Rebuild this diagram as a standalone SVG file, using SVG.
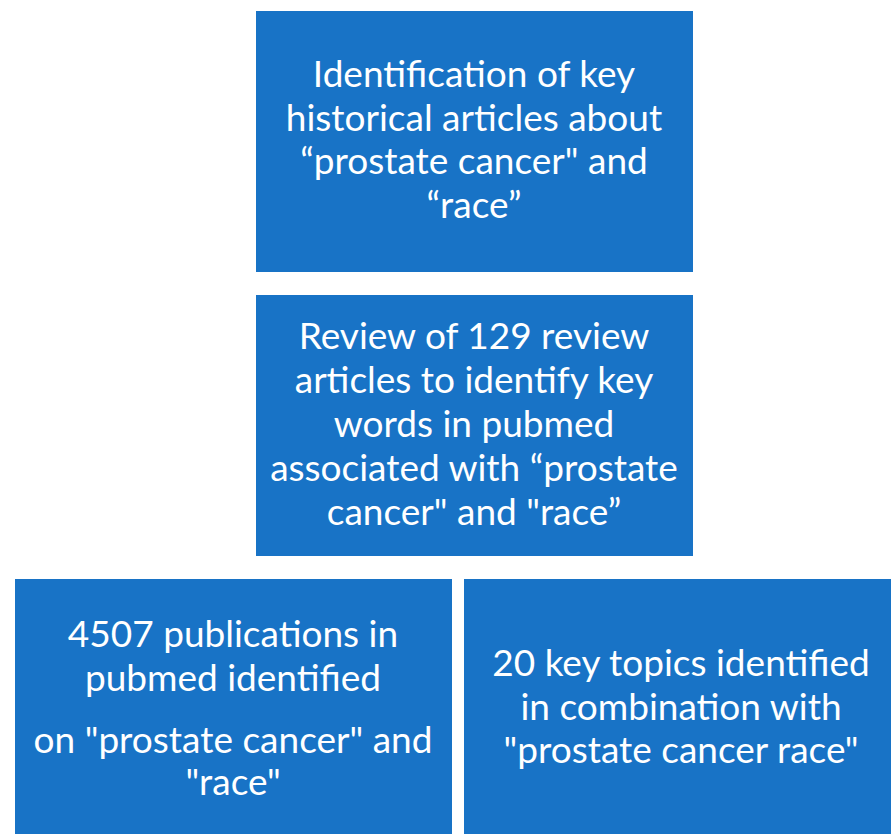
<svg xmlns="http://www.w3.org/2000/svg" width="891" height="834" viewBox="0 0 891 834">
<style>
.box{fill:#1873C6;}
.t{fill:#ffffff;font-family:Lato,"Open Sans","Liberation Sans",sans-serif;font-size:37px;text-anchor:middle;}
</style>
<rect width="891" height="834" fill="#ffffff"/>
<g id="connectors"></g>
<g id="n1">
<rect class="box" x="256" y="11" width="437" height="261"/>
<text class="t" x="474" y="87">Identification of key</text>
<text class="t" x="474" y="131">historical articles about</text>
<text class="t" x="474" y="174">“prostate cancer" and</text>
<text class="t" x="474" y="218">“race”</text>
</g>
<g id="n2">
<rect class="box" x="256" y="295" width="437" height="261"/>
<text class="t" x="474" y="349">Review of 129 review</text>
<text class="t" x="474" y="393">articles to identify key</text>
<text class="t" x="474" y="437">words in pubmed</text>
<text class="t" x="474" y="481">associated with “prostate</text>
<text class="t" x="474" y="525">cancer" and "race”</text>
</g>
<g id="n3">
<rect class="box" x="15" y="579" width="437" height="255"/>
<text class="t" x="233" y="647">4507 publications in</text>
<text class="t" x="233" y="691">pubmed identified</text>
<text class="t" x="233" y="753">on "prostate cancer" and</text>
<text class="t" x="233" y="795">"race"</text>
</g>
<g id="n4">
<rect class="box" x="464" y="579" width="427" height="255"/>
<text class="t" x="681" y="676">20 key topics identified</text>
<text class="t" x="681" y="720">in combination with</text>
<text class="t" x="681" y="763">"prostate cancer race"</text>
</g>
</svg>
